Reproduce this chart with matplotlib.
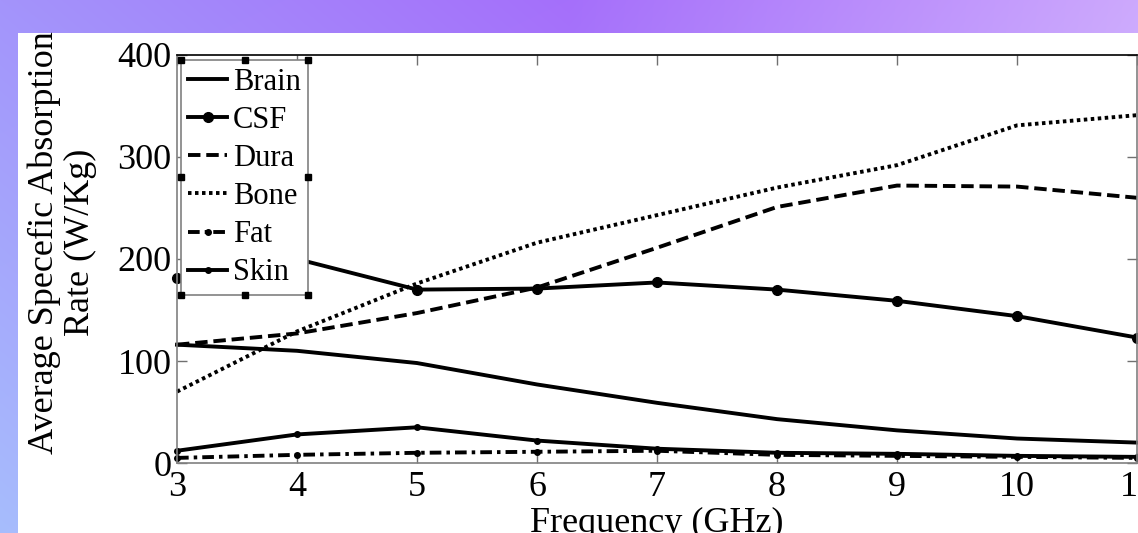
import numpy as np
import matplotlib
matplotlib.use("Agg")
import matplotlib.pyplot as plt
from matplotlib.patches import Rectangle
from matplotlib.colors import to_rgb

plt.rcParams['font.family'] = ['Liberation Serif', 'DejaVu Serif']

# values (SAR in W/Kg)
freq = [3, 4, 5, 6, 7, 8, 9, 10, 11]
brain = [116, 110, 98, 77, 59, 43, 32, 24, 20]
csf = [181, 200, 170, 171, 177, 170, 159, 144, 123]
dura = [116, 127, 147, 172, 211, 251, 272, 271, 260]
bone = [70, 129, 176, 216, 243, 270, 292, 331, 341]
fat = [5, 8, 10, 11, 12, 8, 7, 6, 5]
skin = [12, 28, 35, 22, 14, 10, 9, 7, 6]
xticks = [3, 4, 5, 6, 7, 8, 9, 10, 11]
yticks = [0, 100, 200, 300, 400]

W, H = 1138, 533
fig = plt.figure(figsize=(W / 100, H / 100), dpi=100)

# purple slide background with the white figure panel on it
bg = fig.add_axes([0, 0, 1, 1], zorder=0)
bg.set_axis_off()
top = np.array([to_rgb('#a394fb'), to_rgb('#a56ffa'), to_rgb('#cda9fd')])
xs = np.linspace(0, 1, W)
row = np.stack([np.interp(xs, [0, 0.5, 1], top[:, k]) for k in range(3)], axis=1)
ys = np.linspace(0, 1, H)[:, None, None]
shift = np.array(to_rgb('#a7bdfd')) - top[0]
img = np.clip(row[None, :, :] + ys * shift[None, None, :], 0, 1)
bg.imshow(img, aspect='auto', extent=[0, 1, 0, 1])
bg.add_patch(Rectangle((18 / W, 0), 1, (H - 33) / H, facecolor='white', edgecolor='none'))
bg.set_xlim(0, 1)
bg.set_ylim(0, 1)

ax = fig.add_axes([177 / W, 70 / H, 960 / W, 408 / H], zorder=2)
ax.patch.set_alpha(0)
lw = 2.8
ax.plot(freq, brain, color='black', lw=lw, label='Brain', clip_on=False)
ax.plot(freq, csf, color='black', lw=lw, marker='o', ms=7, label='CSF', clip_on=False)
ax.plot(freq, dura, color='black', lw=lw, ls=(0, (3.2, 1.5)), label='Dura', clip_on=False)
ax.plot(freq, bone, color='black', lw=lw, ls=(0, (0.9, 0.9)), label='Bone', clip_on=False)
ax.plot(freq, fat, color='black', lw=lw, ls=(0, (3, 1.3, 0.9, 1.3)), marker='o', ms=4,
        label='Fat', clip_on=False)
ax.plot(freq, skin, color='black', lw=lw, marker='o', ms=4, label='Skin', clip_on=False)

ax.set_xlim(3, 11)
ax.set_ylim(0, 400)
ax.set_xticks(xticks)
ax.set_yticks(yticks)
ax.tick_params(direction='in', length=7, width=1, colors='#707070', labelcolor='black',
               labelsize=26, top=True, right=True)
ax.tick_params(axis='y', pad=4)
ax.tick_params(axis='x', pad=6)
for s in ['left', 'bottom', 'right']:
    ax.spines[s].set_color('#808080')
ax.spines['top'].set_color('black')
for s in ax.spines.values():
    s.set_linewidth(1.2)

ax.set_xlabel('Frequency (GHz)', fontsize=26, labelpad=2)
ax.set_ylabel('Average Specefic Absorption\nRate (W/Kg)', fontsize=26, linespacing=1.15)
ax.yaxis.set_label_coords(-0.083, 0.54)

leg = ax.legend(loc='upper left', bbox_to_anchor=(0.004, 0.988), borderaxespad=0,
                fontsize=22, fancybox=False, framealpha=1, edgecolor='#808080',
                handlelength=1.25, handletextpad=0.2, labelspacing=0.3, borderpad=0.25)
leg.get_frame().set_linewidth(1.2)
leg.set_zorder(5)

# edit-mode selection handles around the legend
fig.canvas.draw()
bb = leg.get_window_extent()
hx = [bb.x0, (bb.x0 + bb.x1) / 2, bb.x1, bb.x1, bb.x1, (bb.x0 + bb.x1) / 2, bb.x0, bb.x0]
hy = [bb.y1, bb.y1, bb.y1, (bb.y0 + bb.y1) / 2, bb.y0, bb.y0, bb.y0, (bb.y0 + bb.y1) / 2]
pts = ax.transAxes.inverted().transform(np.column_stack([hx, hy]))
ax.plot(pts[:, 0], pts[:, 1], ls='none', marker='s', ms=5, color='black',
        transform=ax.transAxes, clip_on=False, zorder=10)

plt.savefig('out.png', dpi=100)
